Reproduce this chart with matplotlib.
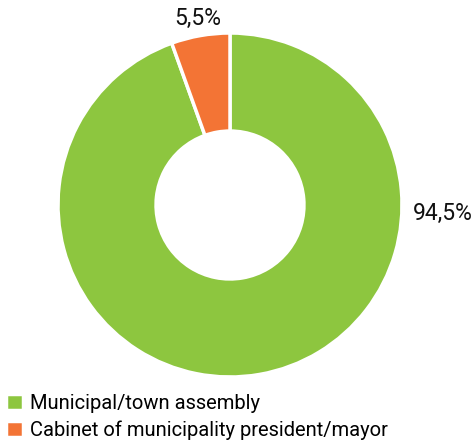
import matplotlib.pyplot as plt
import numpy as np

plt.rcParams['font.family'] = ['Roboto', 'DejaVu Sans']

labels = ['Municipal/town assembly', 'Cabinet of municipality president/mayor']
values = [94.5, 5.5]
pct_text = ['94,5%', '5,5%']
colors = ['#8DC63F', '#F37435']

fig = plt.figure(figsize=(4.75, 4.46), dpi=100)
ax = fig.add_axes([58 / 475, 69 / 446, 344 / 475, 344 / 446])

wedges, _ = ax.pie(
    values,
    colors=colors,
    startangle=90,
    counterclock=False,
    radius=1.0,
    wedgeprops=dict(width=0.57, edgecolor='white', linewidth=2.5),
)
ax.set_xlim(-1, 1)
ax.set_ylim(-1, 1)
ax.set_aspect('equal')

# orange label sits just outside its wedge, green one on the right side
w = wedges[1]
mid = np.deg2rad((w.theta1 + w.theta2) / 2)
ax.text(1.1 * np.cos(mid), 1.1 * np.sin(mid), pct_text[1],
        ha='center', va='center', fontsize=16.5, color='#111111', clip_on=False)
ax.text(1.24, -0.05, pct_text[0], ha='center', va='center',
        fontsize=16.5, color='#111111', clip_on=False)

fig.legend(wedges, labels, loc='lower left', bbox_to_anchor=(0.0, 0.0),
           frameon=False, fontsize=14.5, handlelength=0.85, handleheight=0.85,
           handletextpad=0.35, labelspacing=0.35, borderaxespad=0.1,
           borderpad=0.2)

fig.savefig('out.png', dpi=100)
